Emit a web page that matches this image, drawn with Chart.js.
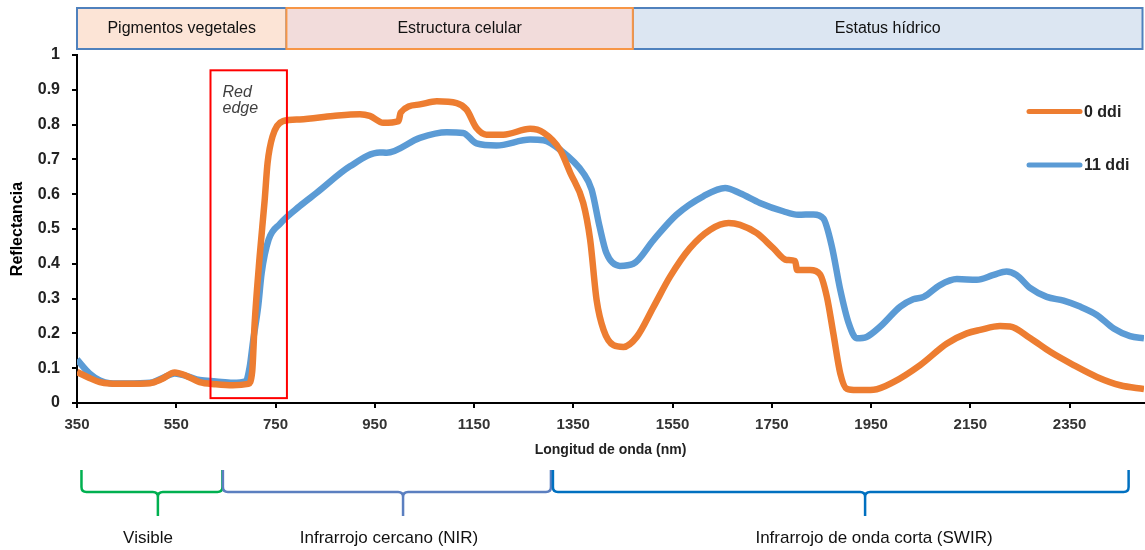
<!DOCTYPE html>
<html>
<head>
<meta charset="utf-8">
<script src="https://cdn.jsdelivr.net/npm/chart.js@4.4.1/dist/chart.umd.min.js"></script>
<style>
  body { margin: 0; background: #fff; overflow: hidden; }
  canvas { display: block; }
</style>
</head>
<body>
<canvas id="spectra" width="1145" height="550"></canvas>
<script>
// tick labels on the wavelength axis
const xTicks = [350, 550, 750, 950, 1150, 1350, 1550, 1750, 1950, 2150, 2350];

const seriesNames = ["0 ddi", "11 ddi"];

// 0 ddi (orange)
const wl0 = [350, 375, 396, 416, 450, 497, 520, 547, 570, 597, 630, 664, 695, 703, 708, 718, 728, 734, 744, 765,
  799, 866, 920, 940, 967, 998, 1002, 1041, 1075, 1115, 1135, 1155, 1175, 1209, 1263, 1290, 1323, 1344, 1370,
  1384, 1397, 1411, 1431, 1451, 1478, 1512, 1545, 1585, 1626, 1663, 1686, 1720, 1753, 1780, 1797, 1801, 1827,
  1847, 1861, 1874, 1888, 1901, 1921, 1955, 1995, 2049, 2103, 2143, 2170, 2210, 2230, 2271, 2311, 2358, 2405,
  2452, 2500];
const refl0 = [0.089, 0.072, 0.060, 0.056, 0.055, 0.057, 0.068, 0.088, 0.078, 0.060, 0.054, 0.051, 0.055, 0.09, 0.23,
  0.42, 0.58, 0.69, 0.766, 0.81, 0.815, 0.825, 0.83, 0.825, 0.805, 0.81, 0.834, 0.858, 0.867, 0.862, 0.843, 0.79,
  0.771, 0.771, 0.788, 0.777, 0.728, 0.661, 0.575, 0.469, 0.296, 0.21, 0.166, 0.161, 0.19, 0.277, 0.363, 0.445,
  0.498, 0.517, 0.512, 0.488, 0.445, 0.411, 0.408, 0.382, 0.382, 0.37, 0.305, 0.2, 0.085, 0.041, 0.037, 0.038,
  0.06, 0.109, 0.171, 0.2, 0.21, 0.221, 0.22, 0.186, 0.147, 0.109, 0.075, 0.051, 0.04];

// 11 ddi (blue)
const wl11 = [350, 375, 396, 416, 450, 497, 520, 547, 570, 597, 630, 664, 690, 698, 705, 715, 722, 736, 759, 799,
  833, 900, 960, 974, 1041, 1095, 1128, 1155, 1195, 1263, 1290, 1323, 1370, 1387, 1403, 1417, 1444, 1471, 1512,
  1558, 1612, 1656, 1686, 1726, 1773, 1803, 1834, 1854, 1871, 1888, 1905, 1921, 1941, 1968, 2009, 2035, 2056,
  2089, 2123, 2163, 2197, 2223, 2243, 2271, 2304, 2338, 2371, 2405, 2439, 2472, 2500];
const refl11 = [0.125, 0.085, 0.065, 0.057, 0.056, 0.058, 0.07, 0.085, 0.078, 0.066, 0.062, 0.058, 0.062, 0.104,
  0.18, 0.277, 0.373, 0.469, 0.515, 0.566, 0.604, 0.68, 0.72, 0.719, 0.762, 0.778, 0.776, 0.746, 0.740, 0.757,
  0.755, 0.728, 0.661, 0.613, 0.507, 0.43, 0.394, 0.40, 0.469, 0.541, 0.594, 0.618, 0.603, 0.575, 0.551, 0.541,
  0.542, 0.53, 0.45, 0.325, 0.229, 0.186, 0.19, 0.219, 0.277, 0.298, 0.305, 0.339, 0.356, 0.354, 0.368, 0.378,
  0.368, 0.33, 0.305, 0.294, 0.277, 0.253, 0.214, 0.192, 0.186];

// header bands and spectral regions, edges in nm
const bandNames = ["Pigmentos vegetales", "Estructura celular", "Estatus hídrico"];
const bandEdges = [350, 772, 1470, 2497];
const regionNames = ["Visible", "Infrarrojo cercano (NIR)", "Infrarrojo de onda corta (SWIR)"];
const regionSpans = [[359, 643, 513], [644, 1305, 1007], [1309, 2469, 1938]];
const redEdgeSpan = [619, 773, 0.014, 0.956];

const ORANGE = "#ED7D31";
const BLUE = "#5B9BD5";
const FONT = "'Liberation Sans', Arial, sans-serif";
Chart.defaults.font.family = FONT;
Chart.defaults.color = "#000";

function toPoints(xs, ys) {
  return xs.map((x, i) => ({ x: x, y: ys[i] }));
}

function brace(ctx, x1, x2, xm, yTop, yMid, yTip) {
  const r = 5;
  ctx.beginPath();
  ctx.moveTo(x1, yTop);
  ctx.lineTo(x1, yMid - r);
  ctx.quadraticCurveTo(x1, yMid, x1 + r, yMid);
  ctx.lineTo(xm - r, yMid);
  ctx.quadraticCurveTo(xm, yMid, xm, yMid + r);
  ctx.lineTo(xm, yTip);
  ctx.moveTo(xm, yMid + r);
  ctx.quadraticCurveTo(xm, yMid, xm + r, yMid);
  ctx.lineTo(x2 - r, yMid);
  ctx.quadraticCurveTo(x2, yMid, x2, yMid - r);
  ctx.lineTo(x2, yTop);
  ctx.stroke();
}

const extras = {
  id: "extras",
  afterDatasetsDraw(chart) {
    const ctx = chart.ctx;
    const xs = chart.scales.x, ys = chart.scales.y;
    ctx.save();

    // red edge box
    const rx1 = xs.getPixelForValue(redEdgeSpan[0]), rx2 = xs.getPixelForValue(redEdgeSpan[1]);
    const ry1 = ys.getPixelForValue(redEdgeSpan[3]), ry2 = ys.getPixelForValue(redEdgeSpan[2]);
    ctx.strokeStyle = "#FF0000";
    ctx.lineWidth = 2;
    ctx.strokeRect(rx1, ry1, rx2 - rx1, ry2 - ry1);
    ctx.fillStyle = "#404040";
    ctx.font = "italic 16px " + FONT;
    ctx.textAlign = "left";
    ctx.textBaseline = "alphabetic";
    ctx.fillText("Red", rx1 + 12, ry1 + 27);
    ctx.fillText("edge", rx1 + 12, ry1 + 43);

    // header bands
    const fills = ["#FCE4D6", "#F2DCDB", "#DCE6F2"];
    const strokes = ["#4F81BD", "#F79646", "#4F81BD"];
    const order = [0, 2, 1];
    ctx.lineWidth = 2;
    order.forEach(i => {
      const a = xs.getPixelForValue(bandEdges[i]), b = xs.getPixelForValue(bandEdges[i + 1]);
      ctx.fillStyle = fills[i];
      ctx.fillRect(a, 8, b - a, 41);
      ctx.strokeStyle = strokes[i];
      ctx.strokeRect(a, 8, b - a, 41);
    });
    ctx.fillStyle = "#111";
    ctx.font = "16px " + FONT;
    ctx.textAlign = "center";
    ctx.textBaseline = "middle";
    bandNames.forEach((name, i) => {
      const a = xs.getPixelForValue(bandEdges[i]), b = xs.getPixelForValue(bandEdges[i + 1]);
      ctx.fillText(name, (a + b) / 2, 29);
    });

    // legend
    const legendY = [111.5, 165];
    [ORANGE, BLUE].forEach((c, i) => {
      ctx.strokeStyle = c;
      ctx.lineWidth = 5;
      ctx.lineCap = "round";
      ctx.beginPath();
      ctx.moveTo(1029, legendY[i]);
      ctx.lineTo(1080, legendY[i]);
      ctx.stroke();
      ctx.fillStyle = "#222";
      ctx.font = "bold 16px " + FONT;
      ctx.textAlign = "left";
      ctx.fillText(seriesNames[i], 1084, legendY[i] + 1);
    });

    // spectral regions below the axis
    const braceColors = ["#00B050", "#5B7FC0", "#0070C0"];
    ctx.lineCap = "butt";
    ctx.lineWidth = 2.5;
    regionSpans.forEach((s, i) => {
      ctx.strokeStyle = braceColors[i];
      brace(ctx, xs.getPixelForValue(s[0]), xs.getPixelForValue(s[1]), xs.getPixelForValue(s[2]), 470, 492, 516);
    });
    ctx.fillStyle = "#111";
    ctx.font = "17px " + FONT;
    ctx.textAlign = "center";
    ctx.textBaseline = "middle";
    const labelX = [148, 389, 874];
    regionNames.forEach((name, i) => ctx.fillText(name, labelX[i], 538));

    ctx.restore();
  }
};

new Chart(document.getElementById("spectra"), {
  type: "line",
  data: {
    datasets: [
      { label: seriesNames[0], data: toPoints(wl0, refl0), borderColor: ORANGE, borderWidth: 6.5,
        pointRadius: 0, cubicInterpolationMode: "monotone", fill: false },
      { label: seriesNames[1], data: toPoints(wl11, refl11), borderColor: BLUE, borderWidth: 6.5,
        pointRadius: 0, cubicInterpolationMode: "monotone", fill: false }
    ]
  },
  options: {
    responsive: false,
    animation: false,
    layout: { padding: { top: 55, right: 1, bottom: 87, left: 0 } },
    plugins: { legend: { display: false }, tooltip: { enabled: false } },
    scales: {
      x: {
        type: "linear",
        min: 350,
        max: 2500,
        afterBuildTicks: s => { s.ticks = xTicks.map(v => ({ value: v })); },
        afterFit: s => { s.height = 60; },
        border: { color: "#000", width: 2 },
        grid: { drawOnChartArea: false, color: "#000", lineWidth: 2, tickLength: 5 },
        ticks: { font: { size: 15, weight: "bold" }, color: "#333", padding: 8, maxRotation: 0,
          callback: v => String(v) },
        title: { display: true, text: "Longitud de onda (nm)", font: { size: 14, weight: "bold" },
          color: "#222", padding: { top: 0, bottom: 4 } }
      },
      y: {
        min: 0,
        max: 1,
        afterFit: s => { s.width = 77; },
        border: { color: "#000", width: 2 },
        grid: { drawOnChartArea: false, color: "#000", lineWidth: 2, tickLength: 5 },
        ticks: { stepSize: 0.1, font: { size: 16, weight: "bold" }, color: "#222", padding: 12,
          callback: v => String(+v.toFixed(1)) },
        title: { display: true, text: "Reflectancia", font: { size: 16, weight: "bold" },
          color: "#000", padding: { top: 8, bottom: 0 } }
      }
    }
  },
  plugins: [extras]
});
</script>
</body>
</html>
